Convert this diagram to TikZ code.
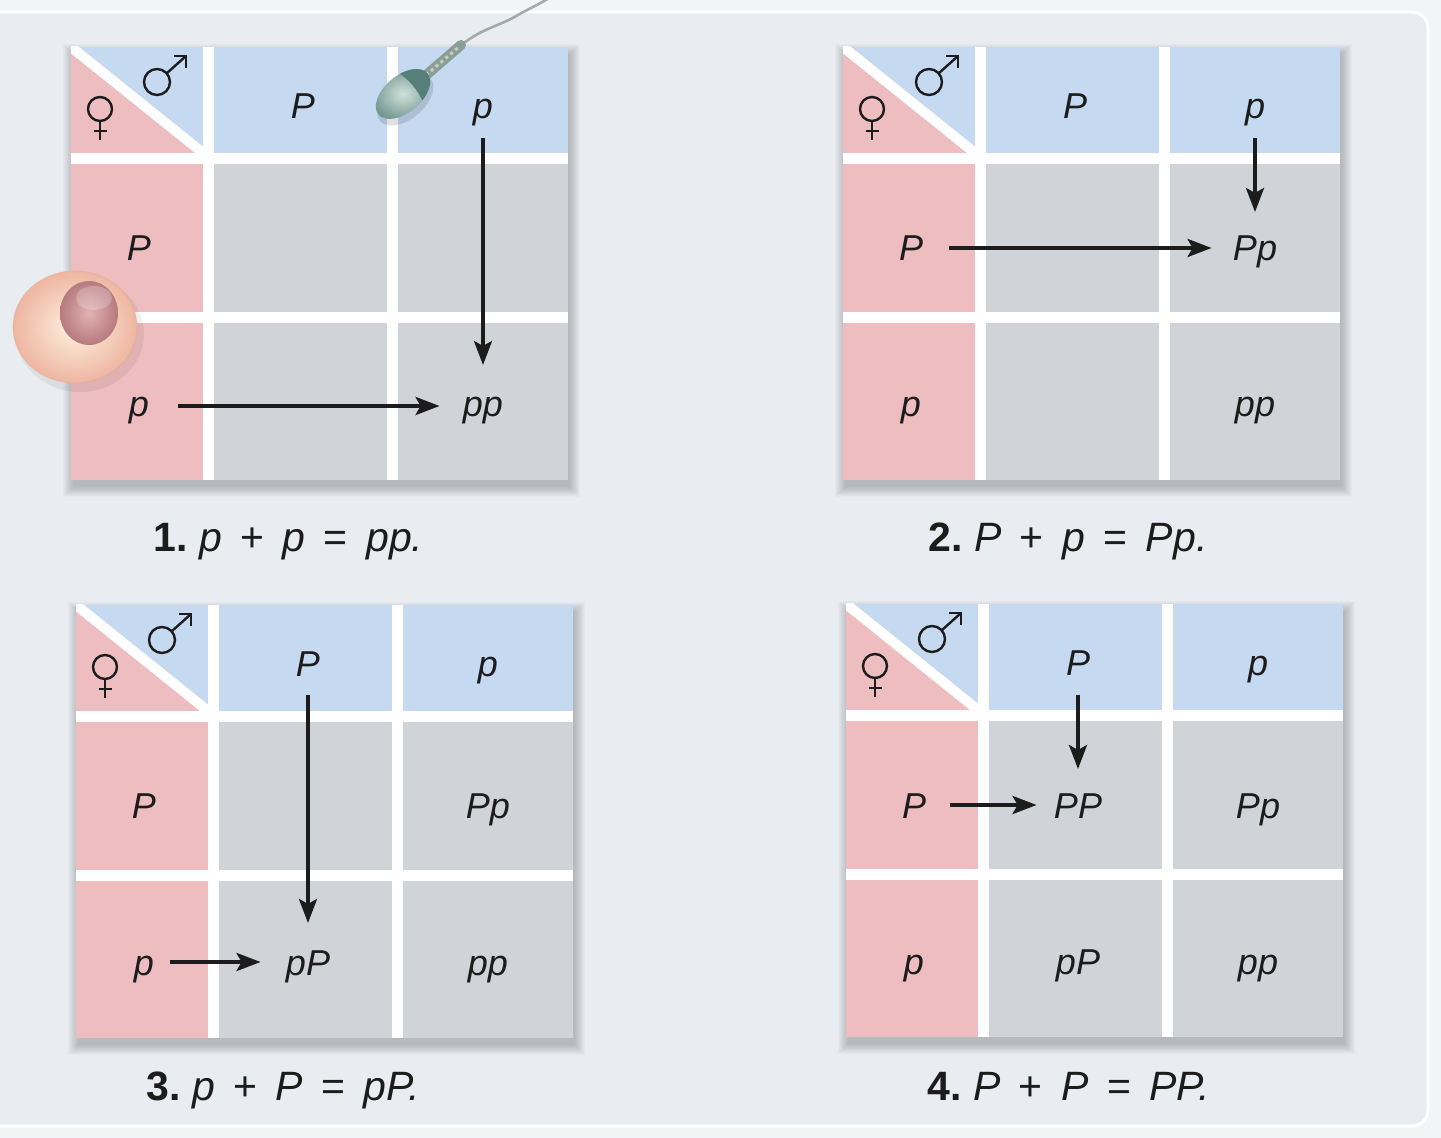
\documentclass[tikz,border=0pt]{standalone}
\usepackage{fontspec}
\setmainfont{Liberation Sans}
\usetikzlibrary{arrows.meta}

\definecolor{pagec}{HTML}{F3F4F5}
\definecolor{panelc}{HTML}{E9EDF1}
\definecolor{pinkc}{HTML}{EDBDBF}
\definecolor{bluec}{HTML}{C5D9F0}
\definecolor{grayc}{HTML}{D0D3D7}
\definecolor{inkc}{HTML}{1C1C1C}
\definecolor{eggin}{HTML}{FDF1DE}
\definecolor{eggout}{HTML}{EEB6A2}
\definecolor{nucin}{HTML}{E2B2B2}
\definecolor{nucout}{HTML}{B67A7F}
\definecolor{headin}{HTML}{D2E1DA}
\definecolor{headout}{HTML}{759A94}
\definecolor{capc}{HTML}{557F7A}
\definecolor{midc}{HTML}{8A9E95}
\definecolor{midlight}{HTML}{C3CDBD}
\definecolor{tailc}{HTML}{A3AAA8}

\tikzset{
  lab/.style={font=\fontsize{18}{21}\selectfont\itshape, text=inkc,
    inner sep=0pt, text height=12.8pt, text depth=3.8pt, anchor=base},
  caption/.style={font=\fontsize{20.5}{24}\selectfont, text=inkc,
    inner sep=0pt, anchor=base west},
  sym/.style={draw=inkc, line width=1.2pt},
  arr/.style={draw=inkc, line width=1.8pt,
    -{Stealth[length=12pt, width=9pt, inset=2.5pt]}},
}

% one Punnett square: #1 name, #2 top-left corner, #3..#6 offspring cells
\newcommand\punnettgrid[6]{%
  \begin{scope}[shift={#2}]
    \foreach \s in {0,...,10}{%
      \fill[black, opacity=0.018] (2-\s,7-\s) rectangle (499+\s,440+\s);}
    \fill[white] (0,0) rectangle (497,433);
    \begin{scope}
      \clip (0,0) rectangle (132,106);
      \fill[bluec] (0,0) rectangle (132,106);
      \fill[pinkc] (0,0) -- (0,106) -- (132,106) -- cycle;
      \draw[white, line width=5pt] (0,0) -- (132,106);
    \end{scope}
    \fill[bluec] (143,0) rectangle (316,106);
    \fill[bluec] (327,0) rectangle (497,106);
    \fill[pinkc] (0,117) rectangle (132,265);
    \fill[pinkc] (0,276) rectangle (132,433);
    \fill[grayc] (143,117) rectangle (316,265);
    \fill[grayc] (327,117) rectangle (497,265);
    \fill[grayc] (143,276) rectangle (316,433);
    \fill[grayc] (327,276) rectangle (497,433);
    % female and male signs
    \draw[sym] (29,62) circle [radius=6pt];
    \draw[sym] (29,74) -- (29,93);
    \draw[sym] (22.5,84) -- (35.5,84);
    \draw[sym] (86,35) circle [radius=6.5pt];
    \draw[sym] (95.5,26.5) -- (115,9);
    \draw[sym] (103,9) -- (115,9) -- (115,21);
    % alleles and offspring
    \node[lab] (#1-h1) at (232,72) {P};
    \node[lab] (#1-h2) at (412,72) {p};
    \node[lab] (#1-r1) at (68,214) {P};
    \node[lab] (#1-r2) at (68,370) {p};
    \node[lab] (#1-c11) at (232,214) {#3};
    \node[lab] (#1-c12) at (412,214) {#4};
    \node[lab] (#1-c21) at (232,370) {#5};
    \node[lab] (#1-c22) at (412,370) {#6};
  \end{scope}%
}

\begin{document}
\begin{tikzpicture}[x=0.5pt, y=-0.5pt]
  \useasboundingbox (0,0) rectangle (1441,1138);
  \fill[pagec] (0,0) rectangle (1441,1138);
  \fill[panelc, draw=white, line width=1.5pt, rounded corners=8pt]
    (-20,12) rectangle (1428,1126);

  \punnettgrid{g1}{(71,47)}{}{}{}{pp}
  \punnettgrid{g2}{(843,47)}{}{Pp}{}{pp}
  \punnettgrid{g3}{(76,605)}{}{Pp}{pP}{pp}
  \punnettgrid{g4}{(846,604)}{PP}{Pp}{pP}{pp}

  % egg cell
  \fill[black, opacity=0.06] (80,334) ellipse [x radius=32pt, y radius=29pt];
  \shade[inner color=eggin, outer color=eggout] (75,327) ellipse [x radius=31pt, y radius=28pt];
  \draw[eggout!70!brown, opacity=0.3, line width=0.6pt] (75,327) ellipse [x radius=31pt, y radius=28pt];
  \shade[inner color=nucin, outer color=nucout] (89,313) ellipse [x radius=14.5pt, y radius=16pt];
  \fill[white, opacity=0.22] (94,298) ellipse [x radius=9pt, y radius=6pt];

  % sperm cell
  \draw[tailc, line width=1.3pt] (460,46) .. controls (482,28) and (500,26) .. (518,15)
    .. controls (532,7) and (542,3) .. (552,-4);
  \draw[midc, line width=5pt, line cap=round] (424,77) -- (461,45);
  \draw[midlight, line width=1.6pt, dash pattern=on 1.6pt off 1.6pt] (426,75) -- (460,46);
  \begin{scope}[shift={(403,94)}, rotate=40]
    \fill[black, opacity=0.12] (-1pt,-3pt) ellipse [x radius=16.5pt, y radius=9.5pt];
    \shade[inner color=headin, outer color=headout] (0,0) ellipse [x radius=16pt, y radius=9.2pt];
    \begin{scope}
      \clip (0,0) ellipse [x radius=16pt, y radius=9.2pt];
      \fill[capc] (5pt,-10pt) .. controls (7pt,-3pt) and (7pt,3pt) .. (5pt,10pt)
        -- (17pt,10pt) -- (17pt,-10pt) -- cycle;
    \end{scope}
  \end{scope}

  % pairing arrows
  \draw[arr, shorten <=5.5pt, shorten >=13pt] (g1-h2.south) -- (g1-c22.north);
  \draw[arr, shorten <=14.5pt, shorten >=11.5pt] ([yshift=1pt]g1-r2.east) -- ([yshift=1pt]g1-c22.west);
  \draw[arr, shorten <=5.5pt, shorten >=11.5pt] (g2-h2.south) -- (g2-c12.north);
  \draw[arr, shorten <=13pt, shorten >=10.5pt] ([yshift=2pt]g2-r1.east) -- ([yshift=2pt]g2-c12.west);
  \draw[arr, shorten <=5.2pt, shorten >=13pt] (g3-h1.south) -- (g3-c21.north);
  \draw[arr, shorten <=8pt, shorten >=12.5pt] ([yshift=2pt]g3-r2.east) -- ([yshift=2pt]g3-c21.west);
  \draw[arr, shorten <=5.5pt, shorten >=11.5pt] (g4-h1.south) -- (g4-c11.north);
  \draw[arr, shorten <=12pt, shorten >=8.5pt] ([yshift=2pt]g4-r1.east) -- ([yshift=2pt]g4-c11.west);

  % captions
  \node[caption] (cap1) at (153,552) {\textbf{1.}\hspace{0.28em}\textit{p}\hspace{0.45em}+\hspace{0.45em}\textit{p}\hspace{0.45em}=\hspace{0.45em}\textit{pp.}};
  \node[caption] (cap2) at (928,552) {\textbf{2.}\hspace{0.28em}\textit{P}\hspace{0.45em}+\hspace{0.45em}\textit{p}\hspace{0.45em}=\hspace{0.45em}\textit{Pp.}};
  \node[caption] (cap3) at (146,1100) {\textbf{3.}\hspace{0.28em}\textit{p}\hspace{0.45em}+\hspace{0.45em}\textit{P}\hspace{0.45em}=\hspace{0.45em}\textit{pP.}};
  \node[caption] (cap4) at (927,1100) {\textbf{4.}\hspace{0.28em}\textit{P}\hspace{0.45em}+\hspace{0.45em}\textit{P}\hspace{0.45em}=\hspace{0.45em}\textit{PP.}};
\end{tikzpicture}
\end{document}
